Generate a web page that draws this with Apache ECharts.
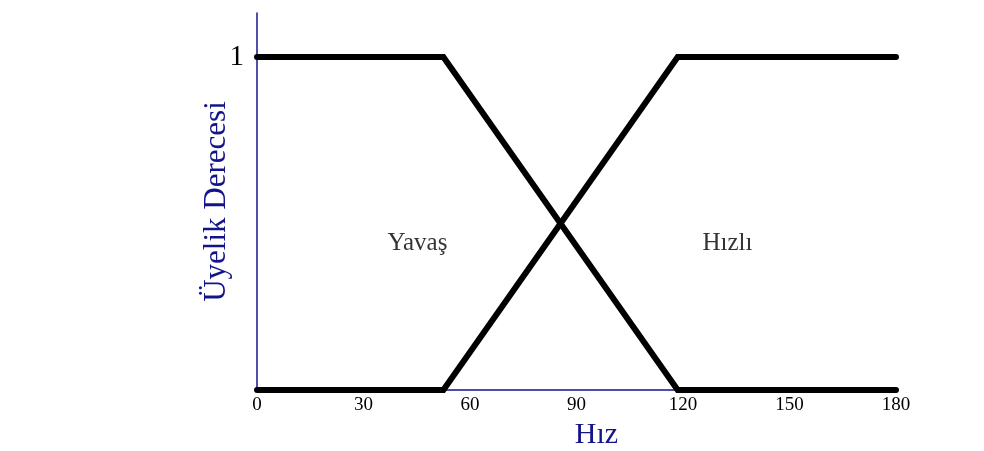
<!DOCTYPE html>
<html>
<head>
<meta charset="utf-8">
<script src="https://cdn.jsdelivr.net/npm/echarts@6/dist/echarts.min.js"></script>
<style>
    html, body { margin: 0; padding: 0; background: #fff; }
    #chart { width: 984px; height: 451px; }
</style>
</head>
<body>
<div id="chart"></div>
<script>
    // membership functions (x = speed, y = degree)
    var yavasX = [0, 52.5, 118.5, 180];
    var yavasY = [1, 1, 0, 0];
    var hizliX = [0, 52.5, 118.5, 180];
    var hizliY = [0, 0, 1, 1];

    // text labels inside the plot
    var labelNames = ['Yavaş', 'Hızlı'];
    var labelX = [45.2, 132.5];
    var labelY = [0.44, 0.44];

    var xTicks = [0, 30, 60, 90, 120, 150, 180];

    var axisBlue = '#14148a';
    var serif = '"Liberation Serif", "DejaVu Serif", serif';

    function pairs(xs, ys) {
        return xs.map(function (x, i) { return [x, ys[i]]; });
    }

    var myChart = echarts.init(document.getElementById('chart'));

    var option = {
        animation: false,
        backgroundColor: '#fff',
        grid: {
            left: 257,
            right: 88,
            top: 13,
            bottom: 61,
            outerBoundsMode: 'none'
        },
        xAxis: {
            type: 'value',
            min: 0,
            max: 180,
            interval: 30,
            name: 'Hız',
            nameLocation: 'middle',
            nameGap: 30,
            nameMoveOverlap: false,
            nameTextStyle: {
                color: axisBlue,
                fontFamily: serif,
                fontSize: 30,
                padding: [0, 0, 0, 40]
            },
            axisLine: { lineStyle: { color: axisBlue, width: 1.5 } },
            axisTick: { show: false },
            splitLine: { show: false },
            axisLabel: {
                color: '#000',
                fontFamily: serif,
                fontSize: 19,
                margin: 6,
                formatter: function (v) {
                    return xTicks.indexOf(v) >= 0 ? String(v) : '';
                }
            }
        },
        yAxis: {
            type: 'value',
            min: 0,
            max: 1.132,
            interval: 1,
            name: 'Üyelik Derecesi',
            nameLocation: 'middle',
            nameGap: 25,
            nameMoveOverlap: false,
            nameTextStyle: {
                color: axisBlue,
                fontFamily: serif,
                fontSize: 31
            },
            axisLine: { show: true, lineStyle: { color: axisBlue, width: 1.5 } },
            axisTick: { show: false },
            splitLine: { show: false },
            axisLabel: {
                color: '#000',
                fontFamily: serif,
                fontSize: 29,
                margin: 13,
                formatter: function (v) {
                    return v === 1 ? '1' : '';
                }
            }
        },
        series: [
            {
                name: 'Yavaş',
                type: 'line',
                data: pairs(yavasX, yavasY),
                symbol: 'none',
                lineStyle: { color: '#000', width: 6, cap: 'round', join: 'miter' }
            },
            {
                name: 'Hızlı',
                type: 'line',
                data: pairs(hizliX, hizliY),
                symbol: 'none',
                lineStyle: { color: '#000', width: 6, cap: 'round', join: 'miter' }
            },
            {
                type: 'scatter',
                symbolSize: 0,
                data: labelNames.map(function (n, i) {
                    return { name: n, value: [labelX[i], labelY[i]] };
                }),
                label: {
                    show: true,
                    position: 'inside',
                    formatter: '{b}',
                    color: '#000',
                    textBorderWidth: 0,
                    fontFamily: serif,
                    fontSize: 25
                }
            }
        ]
    };
    myChart.setOption(option, true);
</script>
</body>
</html>
